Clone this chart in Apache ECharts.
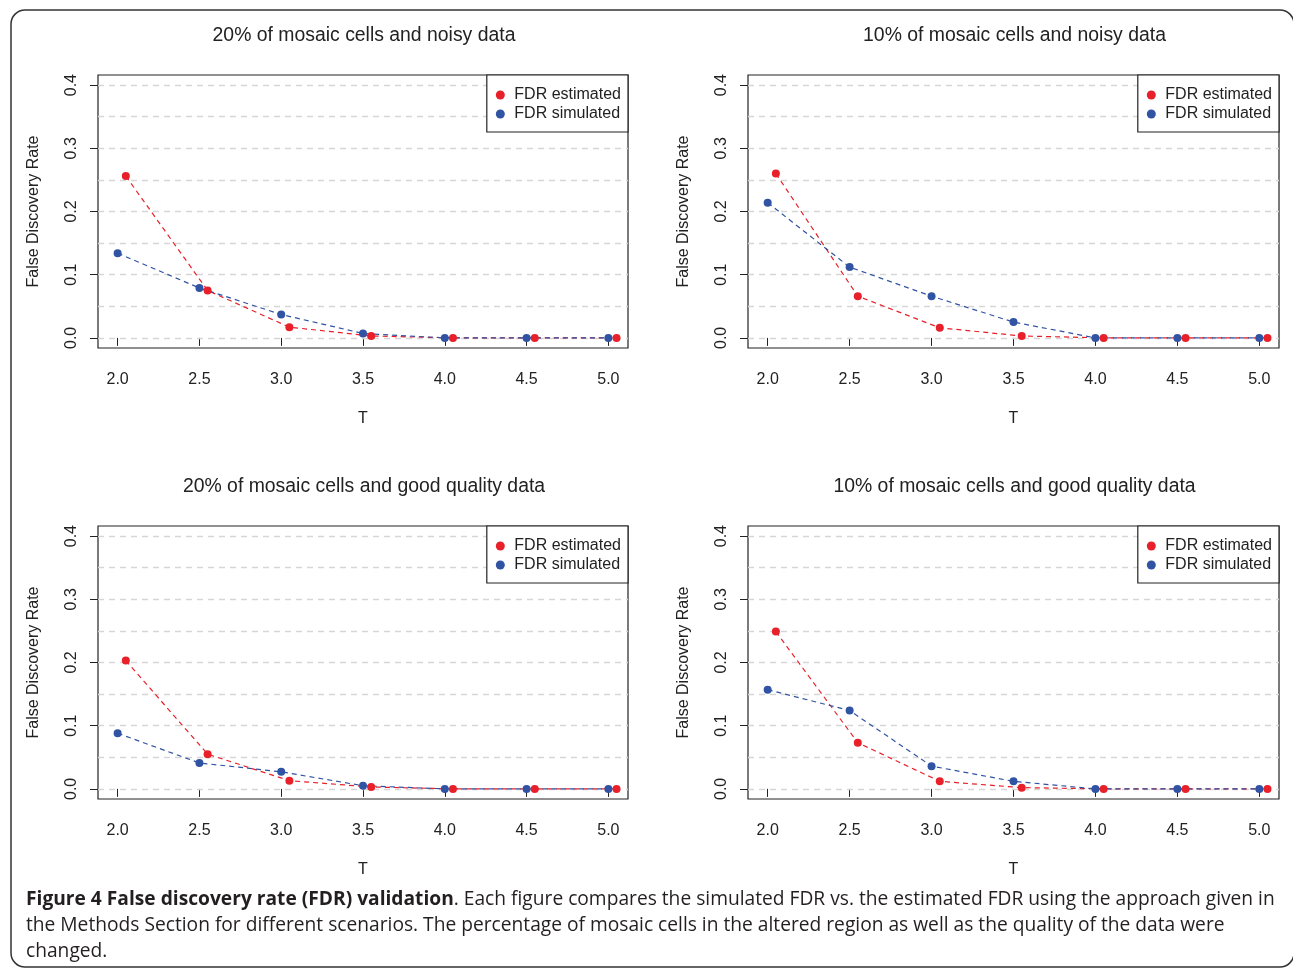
<!DOCTYPE html>
<html>
<head>
<meta charset="utf-8">
<script src="https://cdn.jsdelivr.net/npm/echarts@6/dist/echarts.min.js"></script>
<style>
html,body{margin:0;padding:0;background:#fff;}
#chart{width:1293px;height:969px;}
</style>
</head>
<body>
<div id="chart"></div>
<script>
// ---- data ----
const panelTitles = [
  '20% of mosaic cells and noisy data',
  '10% of mosaic cells and noisy data',
  '20% of mosaic cells and good quality data',
  '10% of mosaic cells and good quality data'
];
const seriesNames = ['FDR estimated', 'FDR simulated'];
const tSimulated = [2.0, 2.5, 3.0, 3.5, 4.0, 4.5, 5.0];
const tEstimated = [2.05, 2.55, 3.05, 3.55, 4.05, 4.55, 5.05];
const est20noisy  = [0.256, 0.075, 0.017, 0.003, 0, 0, 0];
const sim20noisy  = [0.134, 0.079, 0.037, 0.007, 0, 0, 0];
const est10noisy  = [0.260, 0.066, 0.016, 0.003, 0, 0, 0];
const sim10noisy  = [0.214, 0.112, 0.066, 0.025, 0, 0, 0];
const est20good   = [0.203, 0.055, 0.013, 0.003, 0, 0, 0];
const sim20good   = [0.088, 0.041, 0.027, 0.005, 0, 0, 0];
const est10good   = [0.249, 0.073, 0.012, 0.002, 0, 0, 0];
const sim10good   = [0.157, 0.124, 0.036, 0.012, 0, 0, 0];
const xTicks = [2.0, 2.5, 3.0, 3.5, 4.0, 4.5, 5.0];
const yTicks = [0.0, 0.1, 0.2, 0.3, 0.4];
const gridLevels = [0, 0.05, 0.1, 0.15, 0.2, 0.25, 0.3, 0.35, 0.4];
const xLabel = 'T';
const yLabel = 'False Discovery Rate';
const captionBold = 'Figure 4 False discovery rate (FDR) validation';
const captionLines = [
  '. Each figure compares the simulated FDR vs. the estimated FDR using the approach given in',
  'the Methods Section for different scenarios. The percentage of mosaic cells in the altered region as well as the quality of the data were',
  'changed.'
];

const panelData = [
  [est20noisy, sim20noisy],
  [est10noisy, sim10noisy],
  [est20good, sim20good],
  [est10good, sim10good]
];

// ---- layout ----
const boxes = [
  {left: 98, top: 75, width: 530, height: 273},
  {left: 748, top: 75, width: 531, height: 273},
  {left: 98, top: 526, width: 530, height: 273},
  {left: 748, top: 526, width: 531, height: 273}
];
const RED = '#e8202a';
const BLUE = '#3153a3';
const FONT = '"Liberation Sans", Arial, sans-serif';
const CAPFONT = '"Open Sans", sans-serif';
const CAPSIZE = 19.2;

const grid = [], xAxis = [], yAxis = [], series = [], legend = [], title = [];
boxes.forEach((b, i) => {
  grid.push({left: b.left, top: b.top, width: b.width, height: b.height,
    show: true, borderColor: '#222', borderWidth: 1.2, backgroundColor: 'transparent', containLabel: false});
  xAxis.push({
    type: 'value', gridIndex: i, min: 1.88, max: 5.12, position: 'bottom',
    axisLine: {show: false},
    axisTick: {show: true, inside: false, length: 8, customValues: xTicks, lineStyle: {color: '#222', width: 1}},
    axisLabel: {customValues: xTicks, margin: 24, fontSize: 16, color: '#222', fontFamily: FONT,
      formatter: v => v.toFixed(1)},
    splitLine: {show: false},
    name: xLabel, nameLocation: 'middle', nameGap: 63,
    nameTextStyle: {fontSize: 16, color: '#222', fontFamily: FONT}
  });
  yAxis.push({
    type: 'value', gridIndex: i, min: -0.016, max: 0.416, position: 'left',
    axisLine: {show: false},
    axisTick: {show: true, inside: false, length: 8, customValues: yTicks, lineStyle: {color: '#222', width: 1}},
    axisLabel: {customValues: yTicks, rotate: 90, margin: 18, fontSize: 16, color: '#222', fontFamily: FONT,
      formatter: v => v.toFixed(1)},
    splitLine: {show: false},
    name: yLabel, nameLocation: 'middle', nameGap: 56,
    nameTextStyle: {fontSize: 16, color: '#222', fontFamily: FONT}
  });
  title.push({
    text: panelTitles[i], left: b.left + b.width / 2 - 4, top: b.top - 54, textAlign: 'center',
    textStyle: {fontSize: 19.4, fontWeight: 'normal', color: '#222', fontFamily: FONT}
  });
  legend.push({
    data: seriesNames, orient: 'vertical', right: 1293 - (b.left + b.width), top: b.top,
    backgroundColor: '#fff', borderColor: '#222', borderWidth: 1.2, borderRadius: 0,
    padding: [12, 7, 10, 9], itemGap: 3, itemWidth: 18, itemHeight: 9, icon: 'circle',
    textStyle: {fontSize: 16, color: '#222', fontFamily: FONT}, selectedMode: false
  });
  const [est, sim] = panelData[i];
  series.push({
    name: seriesNames[0], type: 'line', xAxisIndex: i, yAxisIndex: i,
    data: tEstimated.map((t, k) => [t, est[k]]),
    symbol: 'circle', symbolSize: 8, showSymbol: true,
    itemStyle: {color: RED}, lineStyle: {color: RED, width: 1.2, type: [5, 4]},
    z: 3,
    markLine: {
      silent: true, symbol: 'none', label: {show: false}, animation: false,
      lineStyle: {color: '#d6d6d6', width: 1.4, type: [6, 5]},
      data: gridLevels.map(v => ({yAxis: v})),
      z: 1
    }
  });
  series.push({
    name: seriesNames[1], type: 'line', xAxisIndex: i, yAxisIndex: i,
    data: tSimulated.map((t, k) => [t, sim[k]]),
    symbol: 'circle', symbolSize: 8, showSymbol: true,
    itemStyle: {color: BLUE}, lineStyle: {color: BLUE, width: 1.2, type: [5, 4]},
    z: 3
  });
});

const option = {
  animation: false,
  backgroundColor: '#fff',
  title, grid, xAxis, yAxis, legend, series,
  graphic: [
    {type: 'rect', shape: {x: 11, y: 10, width: 1283, height: 957, r: 14},
      style: {fill: 'none', stroke: '#333', lineWidth: 1.5}, silent: true},
    {type: 'text', left: 26, top: 890, style: {
      text: '{b|' + captionBold + '}{n|' + captionLines[0] + '}',
      rich: {
        b: {fontSize: CAPSIZE, fontWeight: 'bold', fill: '#231f20', fontFamily: CAPFONT},
        n: {fontSize: CAPSIZE, fill: '#231f20', fontFamily: CAPFONT}
      }}},
    {type: 'text', left: 26, top: 916, style: {
      text: captionLines[1], fontSize: CAPSIZE, fill: '#231f20', fontFamily: CAPFONT}},
    {type: 'text', left: 26, top: 942, style: {
      text: captionLines[2], fontSize: CAPSIZE, fill: '#231f20', fontFamily: CAPFONT}}
  ]
};
const chart = echarts.init(document.getElementById('chart'), null, {renderer: 'canvas'});
chart.setOption(option);
</script>
</body>
</html>
